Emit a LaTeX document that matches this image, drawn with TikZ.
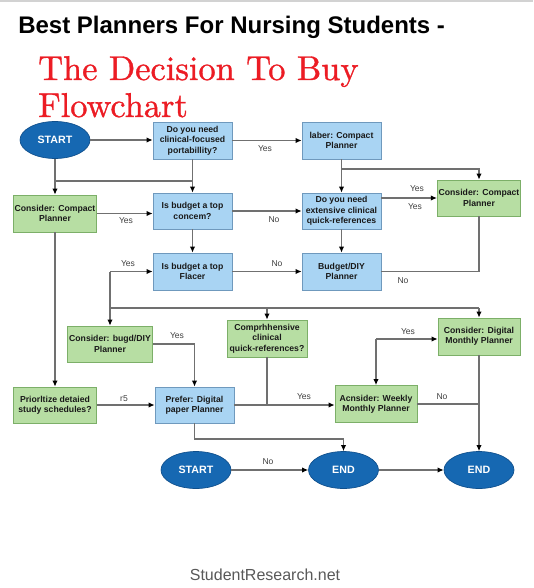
\documentclass[tikz,border=0pt]{standalone}
\usepackage{fontspec}
\newfontfamily\arial{Liberation Sans}
\newfontfamily\lmten{lmroman10-regular}[Extension=.otf,FakeBold=1]
\usetikzlibrary{arrows.meta,shapes.geometric,calc}
\definecolor{bluefill}{HTML}{A9D4F3}
\definecolor{blueborder}{HTML}{6F99BD}
\definecolor{greenfill}{HTML}{B7DEA3}
\definecolor{greenborder}{HTML}{7CAF68}
\definecolor{ovalfill}{HTML}{1668B2}
\definecolor{ovalborder}{HTML}{0F4F8C}
\definecolor{linegray}{HTML}{707070}
\definecolor{titlered}{HTML}{EC1C24}
\tikzset{
  boxtext/.style={align=center, inner sep=1pt, text=black!90,
    font=\arial\bfseries\fontsize{6.5}{7.7}\selectfont},
  qbox/.style={boxtext, draw=blueborder, fill=bluefill, line width=0.6pt,
    minimum width=79*0.75pt, minimum height=37*0.75pt},
  gbox/.style={boxtext, draw=greenborder, fill=greenfill, line width=0.6pt,
    minimum width=83*0.75pt, minimum height=37*0.75pt},
  oval/.style={ellipse, draw=ovalborder, fill=ovalfill, line width=0.5pt,
    minimum width=70*0.75pt, minimum height=37*0.75pt, inner sep=0pt,
    text=white, font=\arial\bfseries\fontsize{8}{9}\selectfont},
  lbl/.style={font=\arial\fontsize{6.4}{7}\selectfont, text=black!75, inner sep=0pt},
  conn/.style={draw=linegray, line width=0.8pt},
  arr/.style={conn, -{Latex[length=4.5pt,width=4pt,black]}}
}
\begin{document}
\begin{tikzpicture}[x=0.75pt,y=-0.75pt]
\useasboundingbox (0,0) rectangle (533,588);
\fill[white] (0,0) rectangle (533,588);
\fill[gray!35] (0,0) rectangle (533,2);

% titles
\node[anchor=base west, inner sep=0pt, font=\arial\bfseries\fontsize{18}{20}\selectfont] (title) at (18,34) {Best Planners For Nursing Students -};
\node[anchor=base west, inner sep=0pt, text=titlered, font=\lmten\fontsize{25.8}{30}\selectfont] (red1) at (38,80) {The Decision To Buy};
\node[anchor=base west, inner sep=0pt, text=titlered, font=\lmten\fontsize{25.8}{30}\selectfont] (red2) at (38,117) {Flowchart};

% nodes
\node[oval] (start1) at (55,140) {START};
\node[qbox] (q1) at (192.5,140.5) {Do you need\\clinical-focused\\portabillity?};
\node[qbox] (laber) at (341.5,140.5) {laber: Compact\\Planner};
\node[gbox] (cc1) at (55,213.5) {Consider: Compact\\Planner};
\node[qbox, minimum height=36*0.75pt] (q2) at (192.5,211) {Is budget a top\\concem?};
\node[qbox, minimum height=36*0.75pt] (q3) at (341.5,211) {Do you need\\extensive clinical\\quick-references};
\node[gbox, minimum width=82*0.75pt, minimum height=36*0.75pt] (cc2) at (479,198) {Consider: Compact\\Planner};
\node[qbox] (q4) at (192.5,271.5) {Is budget a top\\Flacer};
\node[qbox] (bdiy) at (341.5,271.5) {Budget/DIY\\Planner};
\node[gbox, minimum width=84*0.75pt, minimum height=36*0.75pt] (bugd) at (110,344) {Consider: bugd/DIY\\Planner};
\node[gbox, minimum width=80*0.75pt] (compr) at (267,338.5) {Comprhhensive\\clinical\\quick-references?};
\node[gbox, minimum width=82*0.75pt] (digital) at (479,336.5) {Consider: Digital\\Monthly Planner};
\node[gbox, minimum height=36*0.75pt] (prior) at (55,405) {Priorltize detaied\\study schedules?};
\node[qbox, minimum height=36*0.75pt] (prefer) at (194.5,405) {Prefer: Digital\\paper Planner};
\node[gbox, minimum width=82*0.75pt] (weekly) at (376,404) {Acnsider: Weekly\\Monthly Planner};
\node[oval] (start2) at (196,470) {START};
\node[oval] (end1) at (343.5,470) {END};
\node[oval] (end2) at (479,470) {END};

% footer
\node[font=\arial\fontsize{12}{14}\selectfont, text=black!65, inner sep=0pt] (footer) at (265,575) {StudentResearch.net};

% connectors
\draw[arr] (start1.east) -- (start1.east -| q1.west);
\draw[arr] (q1.east) -- (laber.west);
\draw[arr] (start1.south) -- (cc1.north);
\draw[arr] (q1.south) -- (q2.north);
\coordinate (h1) at (55,181);
\draw[conn] (h1) -- (h1 -| q1.south);
\draw[arr] (cc1.east) -- (cc1.east -| q2.west);
\draw[arr] (q2.east) -- (q3.west);
\draw[arr] (laber.south) -- (q3.north);
\coordinate (h2) at (341.5,169);
\draw[arr] (h2) -| (cc2.north);
\draw[arr] (q3.east |- cc2.west) -- (cc2.west);
\draw[arr] (q3.south) -- (bdiy.north);
\draw[arr] (q2.south) -- (q4.north);
\draw[arr] (q4.east) -- (bdiy.west);
\draw[conn] (cc2.south) |- (bdiy.east);
\coordinate (k1) at (110,271.5);
\draw[arr] (k1) -- (q4.west);
\draw[arr] (k1) -- (bugd.north);
\coordinate (h3) at (110,308);
\draw[conn] (h3) -- (h3 -| digital.north);
\draw[arr] (h3 -| compr.north) -- (compr.north);
\draw[arr] (h3 -| digital.north) -- (digital.north);
\draw[arr] (bugd.east) -| (prefer.north);
\draw[arr] (cc1.south) -- (prior.north);
\draw[arr] (prior.east) -- (prefer.west);
\draw[arr] (prefer.east) -- (prefer.east -| weekly.west);
\draw[conn] (compr.south) -- (compr.south |- prefer.east);
\coordinate (k2) at (376,339);
\draw[arr] (k2) -- (k2 -| digital.west);
\draw[arr] (k2) -- (weekly.north);
\draw[conn] (weekly.east) -- (weekly.east -| digital.south);
\draw[arr] (digital.south) -- (end2.north);
\coordinate (k3) at (343.5,439);
\draw[arr] (prefer.south) |- (k3) -- (end1.north);
\draw[arr] (start2.east) -- (end1.west);
\draw[arr] (end1.east) -- (end2.west);

% labels
\node[lbl] at (265,149) {Yes};
\node[lbl] at (126,221) {Yes};
\node[lbl] at (274,220) {No};
\node[lbl] at (417,189) {Yes};
\node[lbl] at (415,207) {Yes};
\node[lbl] at (277,264) {No};
\node[lbl] at (403,281) {No};
\node[lbl] at (128,264) {Yes};
\node[lbl] at (177,336) {Yes};
\node[lbl] at (124,399) {r5};
\node[lbl] at (304,397) {Yes};
\node[lbl] at (408,332) {Yes};
\node[lbl] at (442,397) {No};
\node[lbl] at (268,462) {No};
\end{tikzpicture}
\end{document}
